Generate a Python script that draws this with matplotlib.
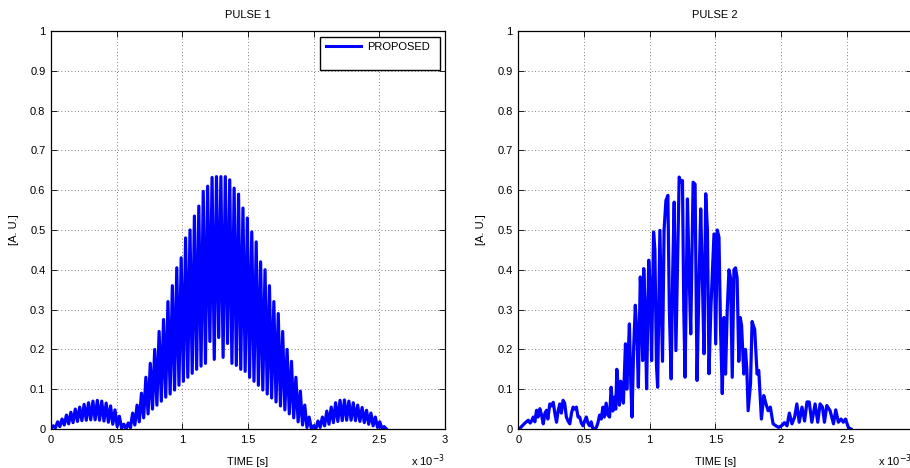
import numpy as np
import matplotlib
matplotlib.use("Agg")
import matplotlib.pyplot as plt
from matplotlib.patches import Rectangle
from matplotlib.lines import Line2D

plt.rcParams['font.family'] = ['Liberation Sans', 'DejaVu Sans']

# ---------------- data ----------------
titles = ["PULSE 1", "PULSE 2"]
x_label = "TIME [s]"
y_label = "[A. U.]"
legend_label = "PROPOSED"
x_ticks_ms = [0, 0.5, 1, 1.5, 2, 2.5, 3]
x_tick_labels = ["0", "0.5", "1", "1.5", "2", "2.5", "3"]
y_ticks = [0, 0.1, 0.2, 0.3, 0.4, 0.5, 0.6, 0.7, 0.8, 0.9, 1]
y_tick_labels = ["0", "0.1", "0.2", "0.3", "0.4", "0.5", "0.6", "0.7", "0.8", "0.9", "1"]

# Pulse 1: oscillation period (ms) and the read-off local maxima / minima
pulse1_period_ms = 0.0336
pulse1_peaks = [0.008, 0.018, 0.025, 0.035, 0.042, 0.050, 0.055, 0.062, 0.066, 0.070,
                0.072, 0.070, 0.065, 0.058, 0.048, 0.032, 0.012,
                0.015, 0.040, 0.060, 0.090, 0.130, 0.165, 0.200, 0.245, 0.275, 0.320,
                0.360, 0.405, 0.430, 0.480, 0.500, 0.535, 0.560, 0.597, 0.610, 0.632,
                0.634, 0.634, 0.634, 0.626, 0.605, 0.590, 0.555, 0.530, 0.495, 0.470,
                0.420, 0.400, 0.360, 0.320, 0.290, 0.245, 0.200, 0.170, 0.130, 0.095,
                0.060, 0.030, 0.008,
                0.020, 0.030, 0.045, 0.055, 0.066, 0.072, 0.073, 0.070, 0.066, 0.060,
                0.054, 0.047, 0.040, 0.030, 0.018, 0.006]
pulse1_troughs = [0.000, 0.003, 0.006, 0.010, 0.013, 0.016, 0.019, 0.021, 0.022, 0.023,
                  0.023, 0.022, 0.020, 0.017, 0.012, 0.006, 0.002, 0.000,
                  0.003, 0.010, 0.018, 0.028, 0.038, 0.050, 0.060, 0.070, 0.080, 0.088,
                  0.098, 0.110, 0.120, 0.130, 0.140, 0.150, 0.158, 0.165, 0.220, 0.175,
                  0.230, 0.180, 0.215, 0.165, 0.160, 0.150, 0.145, 0.130, 0.120, 0.110,
                  0.098, 0.088, 0.078, 0.068, 0.058, 0.048, 0.038, 0.028, 0.018, 0.010,
                  0.004, 0.000, 0.000,
                  0.004, 0.008, 0.012, 0.016, 0.019, 0.021, 0.022, 0.022, 0.021, 0.019,
                  0.016, 0.012, 0.008, 0.004, 0.001, 0.000]

# Pulse 2: read-off trace (time in ms, amplitude)
pulse2_t_ms = [0.000, 0.013, 0.030, 0.051, 0.076, 0.090, 0.101, 0.114, 0.126, 0.139,
               0.150, 0.164, 0.177, 0.190, 0.203, 0.215, 0.225, 0.240, 0.253, 0.266,
               0.278, 0.291, 0.303, 0.316, 0.328, 0.341, 0.353, 0.366, 0.379, 0.392,
               0.405, 0.417, 0.430, 0.442, 0.455, 0.467, 0.480, 0.493, 0.505, 0.518,
               0.530, 0.543, 0.555, 0.568, 0.580, 0.594, 0.606,
               0.619, 0.632, 0.644, 0.655, 0.669, 0.682, 0.695, 0.707, 0.720, 0.732,
               0.742, 0.750, 0.760, 0.770, 0.780, 0.788, 0.800, 0.816, 0.826, 0.835,
               0.846, 0.856, 0.866, 0.878, 0.891, 0.903, 0.914, 0.929, 0.940, 0.947,
               0.955, 0.966, 0.977, 0.993, 1.005, 1.015, 1.030, 1.040, 1.052, 1.061,
               1.078, 1.090, 1.098, 1.110, 1.124, 1.139, 1.150, 1.164, 1.176, 1.187,
               1.200, 1.212, 1.225, 1.237, 1.250, 1.260, 1.270, 1.288, 1.300, 1.313,
               1.331, 1.346, 1.361, 1.375, 1.389, 1.400, 1.414, 1.427, 1.440, 1.452,
               1.466, 1.490, 1.503, 1.515, 1.528, 1.540, 1.553, 1.566, 1.578, 1.591,
               1.604, 1.616, 1.629, 1.642, 1.654, 1.666, 1.679, 1.690, 1.700, 1.717,
               1.730, 1.740, 1.750, 1.768, 1.780, 1.790, 1.800, 1.818, 1.831, 1.851,
               1.869, 1.886, 1.902, 1.919, 1.940, 1.957, 1.982, 2.008, 2.026, 2.046,
               2.064, 2.084, 2.104, 2.121, 2.139, 2.160, 2.180, 2.198, 2.215, 2.235,
               2.260, 2.280, 2.298, 2.316, 2.331, 2.349, 2.374, 2.400, 2.417, 2.437,
               2.457, 2.475, 2.492, 2.513, 2.533]
pulse2_v = [0.000, 0.002, 0.008, 0.015, 0.022, 0.015, 0.020, 0.030, 0.018, 0.047,
            0.030, 0.051, 0.035, 0.013, 0.040, 0.047, 0.025, 0.063, 0.058, 0.067,
            0.040, 0.017, 0.045, 0.063, 0.040, 0.072, 0.065, 0.030, 0.020, 0.013,
            0.040, 0.055, 0.050, 0.055, 0.030, 0.030, 0.015, 0.008, 0.020, 0.030,
            0.015, 0.008, 0.018, 0.000, 0.000, 0.004, 0.015,
            0.035, 0.025, 0.055, 0.030, 0.065, 0.035, 0.030, 0.105, 0.045, 0.080,
            0.050, 0.150, 0.110, 0.060, 0.120, 0.100, 0.065, 0.214, 0.100, 0.170,
            0.264, 0.120, 0.030, 0.200, 0.311, 0.240, 0.105, 0.382, 0.290, 0.172,
            0.403, 0.300, 0.101, 0.424, 0.350, 0.172, 0.495, 0.450, 0.160, 0.105,
            0.499, 0.300, 0.170, 0.500, 0.574, 0.587, 0.300, 0.126, 0.400, 0.570,
            0.197, 0.400, 0.633, 0.620, 0.624, 0.300, 0.130, 0.578, 0.400, 0.239,
            0.620, 0.615, 0.122, 0.350, 0.553, 0.400, 0.189, 0.591, 0.500, 0.139,
            0.300, 0.490, 0.214, 0.500, 0.482, 0.250, 0.089, 0.280, 0.138, 0.300,
            0.400, 0.380, 0.130, 0.400, 0.405, 0.380, 0.170, 0.280, 0.260, 0.138,
            0.200, 0.150, 0.046, 0.113, 0.270, 0.260, 0.250, 0.138, 0.147, 0.025,
            0.084, 0.063, 0.046, 0.055, 0.013, 0.009, 0.004, 0.009, 0.016, 0.008,
            0.040, 0.013, 0.030, 0.063, 0.017, 0.055, 0.020, 0.068, 0.068, 0.017,
            0.063, 0.017, 0.063, 0.055, 0.017, 0.059, 0.046, 0.013, 0.048, 0.017,
            0.025, 0.017, 0.025, 0.004, 0.000]

# ------------- build pulse 1 series (alternating trough / peak) -------------
p1_vals = []
for i in range(len(pulse1_troughs)):
    p1_vals.append(pulse1_troughs[i])
    if i < len(pulse1_peaks):
        p1_vals.append(pulse1_peaks[i])
p1_t = np.arange(len(p1_vals)) * (pulse1_period_ms / 2.0) * 1e-3
p2_t = np.array(pulse2_t_ms) * 1e-3

# ---------------- figure ----------------
W, H = 910, 468
fig = plt.figure(figsize=(W / 100, H / 100), dpi=100)
ax_w = 394 / W
ax_h = 398 / H
ax_b = 1 - 429 / H
axes = [fig.add_axes([51 / W, ax_b, ax_w, ax_h]),
        fig.add_axes([518.3 / W, ax_b, ax_w, ax_h])]

series = [(p1_t, p1_vals), (p2_t, pulse2_v)]
blue = (0, 0, 1)
fs = 8

for ax, title, (t, v) in zip(axes, titles, series):
    ax.plot(t, v, color=blue, lw=2.3, solid_joinstyle='round')
    ax.set_xlim(0, 3e-3)
    ax.set_ylim(0, 1)
    ax.set_xticks([x * 1e-3 for x in x_ticks_ms])
    ax.set_xticklabels(x_tick_labels)
    ax.set_yticks(y_ticks)
    ax.set_yticklabels(y_tick_labels)
    ax.tick_params(direction='in', length=4, width=0.6, top=True, right=True,
                   labelsize=fs, pad=4, colors='black')
    ax.grid(True, linestyle=(0, (1, 3)), color='0.35', linewidth=0.6)
    for s in ax.spines.values():
        s.set_linewidth(0.9)
        s.set_color('black')
    ax.set_title(title, fontsize=fs, pad=9)
    ax.set_xlabel(x_label, fontsize=fs, labelpad=9)
    ax.set_ylabel(y_label, fontsize=fs, labelpad=8)
    ax.text(1.0, -0.058, r"x 10$^{-3}$", transform=ax.transAxes, fontsize=fs,
            ha='right', va='top')

# legend (MATLAB style box) on the first axes
ax = axes[0]
ax.add_patch(Rectangle((0.683, 0.902), 0.304, 0.083, transform=ax.transAxes,
                       facecolor='white', edgecolor='black', lw=1.0, zorder=5))
ax.add_line(Line2D([0.698, 0.787], [0.962, 0.962], transform=ax.transAxes,
                   color=blue, lw=2.2, zorder=6))
ax.text(0.802, 0.960, legend_label, transform=ax.transAxes, fontsize=fs,
        va='center', ha='left', zorder=6)

fig.savefig("out.png", dpi=100)
